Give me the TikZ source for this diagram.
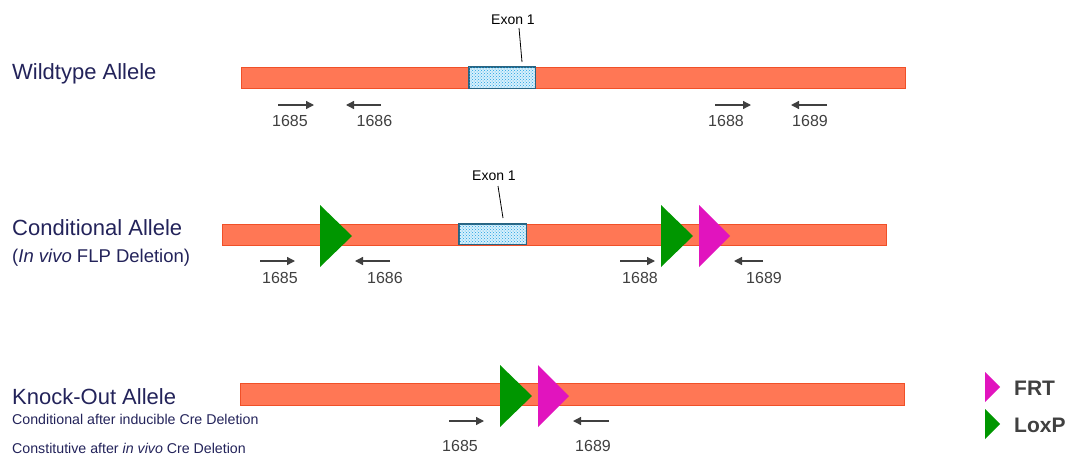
\documentclass[tikz,border=0pt]{standalone}
\usepackage{fontspec}
\setmainfont{Liberation Sans}
\usetikzlibrary{arrows.meta,patterns,calc}
\definecolor{barfill}{RGB}{255,119,85}
\definecolor{barline}{RGB}{240,80,40}
\definecolor{navy}{RGB}{35,35,90}
\definecolor{loxgreen}{RGB}{0,150,0}
\definecolor{frtmag}{RGB}{225,20,190}
\definecolor{primer}{RGB}{64,64,64}
\definecolor{exonline}{RGB}{40,100,130}
\definecolor{exonfill}{RGB}{215,240,252}
\definecolor{exondot}{RGB}{30,160,225}
\begin{document}
\begin{tikzpicture}[x=1pt,y=-1pt,
  bar/.style={draw=barline, line width=0.8pt, fill=barfill, inner sep=0pt, minimum width=664pt},
  exonbox/.style={draw=exonline, line width=0.6pt, fill=exonfill, inner sep=0pt},
  exondots/.style={pattern=crosshatch dots, pattern color=exondot},
  exonlbl/.style={font=\fontsize{14}{16}\selectfont, text=black, inner sep=0pt, anchor=base},
  leader/.style={draw=black, line width=0.8pt},
  allele/.style={font=\fontsize{22}{25}\selectfont, text=navy, inner sep=0pt, anchor=base west},
  sublbl/.style={font=\fontsize{18.5}{21}\selectfont, text=navy, inner sep=0pt, anchor=base west},
  smalllbl/.style={font=\fontsize{14.2}{16}\selectfont, text=navy, inner sep=0pt, anchor=base west},
  num/.style={font=\fontsize{16}{18}\selectfont, text=primer, inner sep=0pt, anchor=base},
  pr/.style={draw=primer, line width=1.3pt, -{Triangle[length=8pt,width=8pt]}},
  lox/.style={fill=loxgreen},
  frt/.style={fill=frtmag},
  legend/.style={font=\bfseries\fontsize{21}{24}\selectfont, text=primer, inner sep=0pt, anchor=west}
]
\useasboundingbox (0,0) rectangle (1074,456);

% ---------------- Wildtype
\node[allele] (lwt) at (12,79) {Wildtype Allele};
\node[bar, minimum height=21pt] (wt) at (573,77.5) {};
\node[exonbox, minimum width=66pt, minimum height=21pt] (ex1) at (502,77.5) {};
\fill[exondots] (ex1.north west) rectangle (ex1.south east);
\draw[exonline, line width=0.6pt] (ex1.north west) rectangle (ex1.south east);
\node[exonlbl] (el1) at (513,24) {Exon 1};
\coordinate (el1a) at (519,28);
\coordinate (el1b) at (522,62);
\draw[leader] (el1a) -- (el1b);

\coordinate (p1s) at (278,105); \coordinate (p1e) at (314,105);
\coordinate (p2s) at (381,105); \coordinate (p2e) at (346,105);
\coordinate (p3s) at (715,105); \coordinate (p3e) at (751,105);
\coordinate (p4s) at (827,105); \coordinate (p4e) at (791,105);
\draw[pr] (p1s) -- (p1e);
\draw[pr] (p2s) -- (p2e);
\draw[pr] (p3s) -- (p3e);
\draw[pr] (p4s) -- (p4e);
\node[num] (n1) at (290,126) {1685};
\node[num] (n2) at (374.5,126) {1686};
\node[num] (n3) at (726,126) {1688};
\node[num] (n4) at (810,126) {1689};

% ---------------- Conditional
\node[allele] (lco) at (12,235) {Conditional Allele};
\node[sublbl] (lco2) at (12,262) {(\textit{In vivo} FLP Deletion)};
\node[bar, minimum height=21pt] (co) at (554,234.5) {};
\node[exonbox, minimum width=67pt, minimum height=20pt] (ex2) at (492.5,234) {};
\fill[exondots] (ex2.north west) rectangle (ex2.south east);
\draw[exonline, line width=0.6pt] (ex2.north west) rectangle (ex2.south east);
\node[exonlbl] (el2) at (494,180) {Exon 1};
\coordinate (el2a) at (498,186);
\coordinate (el2b) at (503,218);
\draw[leader] (el2a) -- (el2b);

\path[lox] (320,205) -- (352,236) -- (320,267) -- cycle;
\path[lox] (661,205) -- (693,236) -- (661,267) -- cycle;
\path[frt] (699,205) -- (730,236) -- (699,267) -- cycle;

\coordinate (q1s) at (260,261); \coordinate (q1e) at (295,261);
\coordinate (q2s) at (390,261); \coordinate (q2e) at (355,261);
\coordinate (q3s) at (620,261); \coordinate (q3e) at (655,261);
\coordinate (q4s) at (763,261); \coordinate (q4e) at (734,261);
\draw[pr] (q1s) -- (q1e);
\draw[pr] (q2s) -- (q2e);
\draw[pr] (q3s) -- (q3e);
\draw[pr] (q4s) -- (q4e);
\node[num] (m1) at (280,283) {1685};
\node[num] (m2) at (385,283) {1686};
\node[num] (m3) at (640,283) {1688};
\node[num] (m4) at (764,283) {1689};

% ---------------- Knock-out
\node[allele] (lko) at (12,404) {Knock-Out Allele};
\node[smalllbl] (lko2) at (12,424) {Conditional after inducible Cre Deletion};
\node[smalllbl] (lko3) at (12,453) {Constitutive after \textit{in vivo} Cre Deletion};
\node[bar, minimum height=22pt] (ko) at (572,394) {};
\path[lox] (500,365) -- (532,396) -- (500,427) -- cycle;
\path[frt] (538,365) -- (569,396) -- (538,427) -- cycle;

\coordinate (r1s) at (449,421); \coordinate (r1e) at (484,421);
\coordinate (r2s) at (609,421); \coordinate (r2e) at (573,421);
\draw[pr] (r1s) -- (r1e);
\draw[pr] (r2s) -- (r2e);
\node[num] (k1) at (460,451) {1685};
\node[num] (k2) at (593,451) {1689};

% ---------------- Legend
\path[frt] (985,372) -- (1000,387) -- (985,402) -- cycle;
\path[lox] (985,409) -- (1000,424) -- (985,439) -- cycle;
\node[legend] (lfrt) at (1014,388) {FRT};
\node[legend] (llox) at (1014,425) {LoxP};
\end{tikzpicture}
\end{document}
